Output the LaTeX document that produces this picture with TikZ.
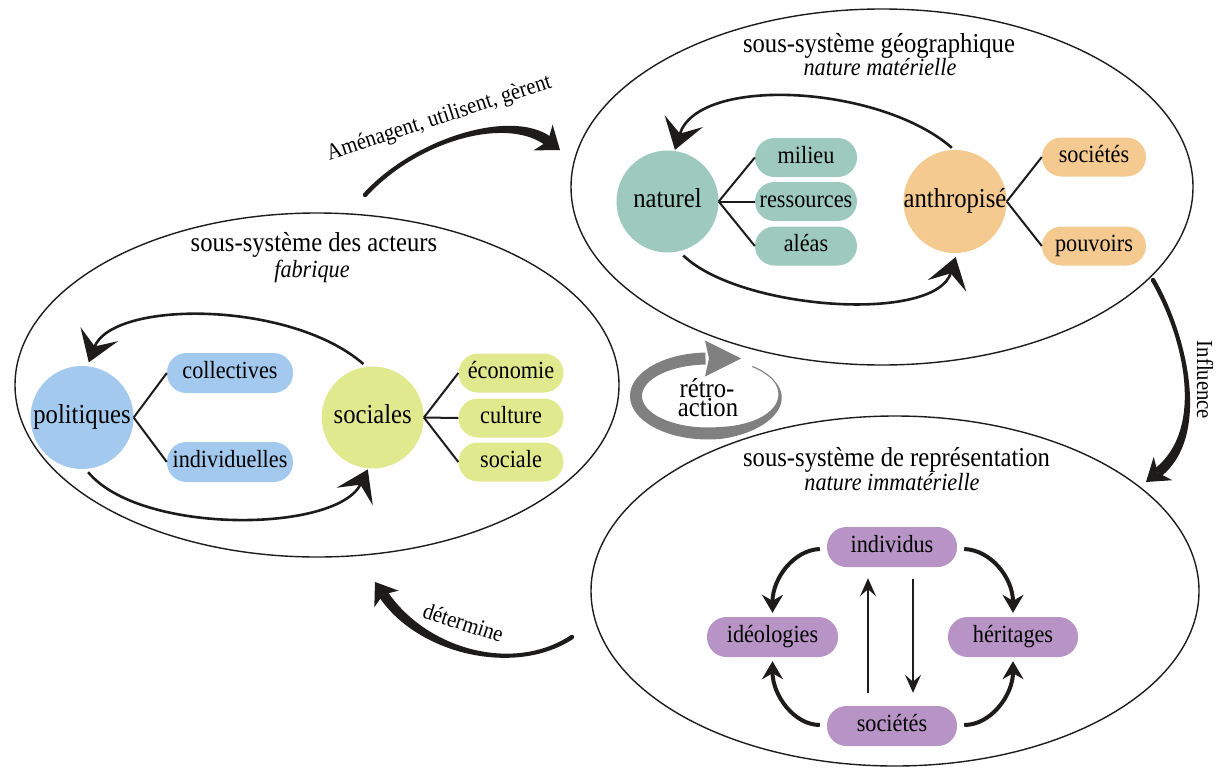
\documentclass[tikz,border=0pt]{standalone}
\usepackage{fontspec}
\setmainfont{Liberation Serif}[FakeStretch=0.9]
\usetikzlibrary{calc,arrows.meta,shapes.geometric}
\definecolor{cnat}{HTML}{9DCABC}
\definecolor{cant}{HTML}{F5CA90}
\definecolor{cpol}{HTML}{A3C9EE}
\definecolor{csoc}{HTML}{E1E98F}
\definecolor{crep}{HTML}{B793C6}
\definecolor{cgry}{HTML}{808080}
\definecolor{cink}{HTML}{1E1C1B}
\newcommand\fbig{\fontsize{27.4pt}{30pt}\selectfont}
\newcommand\fmid{\fontsize{24.7pt}{28pt}\selectfont}
\newcommand\fsml{\fontsize{23pt}{26pt}\selectfont}
\newcommand\taperarrow[6]{%
  \fill[cink] ($(#1)!#5!90:(#2)$) .. controls ($(#2)!#5!-90:(#1)$) and ($(#3)!#6!90:(#4)$) .. ($(#4)!#6!-90:(#3)$)
    -- ($(#4)!#6!90:(#3)$) .. controls ($(#3)!#6!-90:(#4)$) and ($(#2)!#5!90:(#1)$) .. ($(#1)!#5!-90:(#2)$) -- cycle;
  \fill[cink] (#1) circle[radius=#5];}
\begin{document}
\begin{tikzpicture}[x=1pt,y=-1pt,
  declare function={rw(\t)=1.2+10.8*min(1,max(0,(20-\t)/100));},
  subsys/.style={ellipse, draw=cink, line width=1.4pt, inner sep=0pt},
  hub/.style={circle, inner sep=0pt, minimum size=102pt, font=\fbig, text height=12.3pt, text depth=0pt},
  pill/.style={rectangle, rounded corners=19.5pt, minimum height=39pt, inner sep=0pt, font=\fmid, text height=11.1pt, text depth=0pt},
  title/.style={anchor=base, font=\fbig, inner sep=0pt},
  subtitle/.style={anchor=base, font=\fmid\itshape, inner sep=0pt},
  branch/.style={draw=cink, line width=2pt},
  loop/.style={draw=cink, line width=2.6pt, -{Stealth[length=30pt,width=40pt,inset=13pt]}},
  cyc/.style={draw=cink, line width=4pt, -{Stealth[length=18pt,width=21pt,inset=6pt]}},
  oneway/.style={draw=cink, line width=1.5pt, -{Stealth[length=18pt,width=16pt,inset=7pt]}},
  lbl/.style={font=\fsml, inner sep=0pt, anchor=base},
]
\useasboundingbox (0,0) rectangle (1223,771);
\clip (0,0) rectangle (1223,771);

% sub-system ellipses
\node[subsys, minimum width=622pt, minimum height=356pt] (geo) at (882,187) {};
\node[subsys, minimum width=604pt, minimum height=344pt] (act) at (317,385) {};
\node[subsys, minimum width=608pt, minimum height=350pt] (rep) at (895,591) {};

% titles
\node[title] (geot) at (879,52) {sous-système géographique};
\node[subtitle] (geos) at (880,75.7) {nature matérielle};
\node[title] (actt) at (314,251.7) {sous-système des acteurs};
\node[subtitle] (acts) at (312,277.7) {fabrique};
\node[title] (rept) at (896.5,466) {sous-système de représentation};
\node[subtitle] (reps) at (892,490.7) {nature immatérielle};

% geographic
\node[hub, fill=cnat] (naturel) at (667.5,201.5) {naturel};
\node[hub, fill=cant, minimum size=103pt] (anthropise) at (955,201.5) {anthropisé};
\node[pill, fill=cnat, minimum width=102pt] (milieu) at (806,157.5) {milieu};
\node[pill, fill=cnat, minimum width=102pt] (ressources) at (806,201.5) {ressources};
\node[pill, fill=cnat, minimum width=102pt] (aleas) at (806,246) {aléas};
\node[pill, fill=cant, minimum width=104pt] (societes1) at (1094,157) {sociétés};
\node[pill, fill=cant, minimum width=104pt] (pouvoirs) at (1094,246) {pouvoirs};
\draw[branch] (naturel.east) -- (milieu.west);
\draw[branch] (naturel.east) -- (ressources.west);
\draw[branch] (naturel.east) -- (aleas.west);
\draw[branch] (anthropise.east) -- (societes1.west);
\draw[branch] (anthropise.east) -- (pouvoirs.west);
\draw[loop, shorten <=3pt, shorten >=1pt] (anthropise.91) .. controls (880,85) and (698,75) .. (naturel.82);
\draw[loop, shorten <=6pt, shorten >=4pt] (naturel.-77) .. controls (740,310) and (935.6,323.7) .. (anthropise.-88);

% actors
\node[hub, fill=cpol, minimum size=103pt] (politiques) at (82,417.5) {politiques};
\node[hub, fill=csoc] (sociales) at (372.7,417.5) {sociales};
\node[pill, fill=cpol, minimum width=126pt, minimum height=40pt] (collectives) at (230,373) {collectives};
\node[pill, fill=cpol, minimum width=126pt, minimum height=40pt] (individuelles) at (230,462) {individuelles};
\node[pill, fill=csoc, minimum width=105pt] (economie) at (511,373) {économie};
\node[pill, fill=csoc, minimum width=105pt] (culture) at (511,418) {culture};
\node[pill, fill=csoc, minimum width=105pt] (sociale) at (511,462) {sociale};
\draw[branch] (politiques.east) -- (collectives.west);
\draw[branch] (politiques.east) -- (individuelles.west);
\draw[branch] (sociales.east) -- (economie.west);
\draw[branch] (sociales.east) -- (culture.west);
\draw[branch] (sociales.east) -- (sociale.west);
\draw[loop, shorten <=4pt, shorten >=4pt] (sociales.97) .. controls (290,300) and (112,300) .. (politiques.84);
\draw[loop, shorten <=4pt, shorten >=1pt] (politiques.-86) .. controls (140,535) and (337,533) .. (sociales.-95);

% representation
\node[pill, fill=crep, minimum width=130pt, minimum height=40pt] (individus) at (892,547) {individus};
\node[pill, fill=crep, minimum width=131pt, minimum height=40pt] (ideologies) at (772.5,637) {idéologies};
\node[pill, fill=crep, minimum width=130pt, minimum height=40pt] (heritages) at (1013,637) {héritages};
\node[pill, fill=crep, minimum width=130pt, minimum height=40pt] (societes2) at (892,726) {sociétés};
\draw[cyc] ($(individus.west)+(-7,2)$) .. controls (794,550) and (772.5,578) .. ($(ideologies.north)+(0,-4)$);
\draw[cyc] ($(individus.east)+(7,2)$) .. controls (991,550) and (1013,578) .. ($(heritages.north)+(0,-4)$);
\draw[cyc] ($(societes2.west)+(-7,-1)$) .. controls (794,725) and (772.5,695) .. ($(ideologies.south)+(0,4)$);
\draw[cyc] ($(societes2.east)+(7,-1)$) .. controls (991,725) and (1013,695) .. ($(heritages.south)+(0,4)$);
\draw[oneway] ($(societes2.north)+(-24,-13)$) -- ($(individus.south)+(-24,11)$);
\draw[oneway] ($(individus.south)+(21,12)$) -- ($(societes2.north)+(21,-13)$);

% big arrows between sub-systems
\coordinate (a0) at (365,195); \coordinate (a1) at (415,140);
\coordinate (a2) at (508,112); \coordinate (a3) at (548,141);
\taperarrow{a0}{a1}{a2}{a3}{2.2pt}{5pt}
\fill[cink] (560,150) -- (533.6,150.4) -- (a3) -- (552.6,124.6) -- cycle;
\node[lbl, rotate=18] (lab1) at (441,124) {Aménagent, utilisent, gèrent};

\coordinate (i0) at (1153,280); \coordinate (i1) at (1185,335);
\coordinate (i2) at (1208.9,432.3); \coordinate (i3) at (1157.7,472.7);
\taperarrow{i0}{i1}{i2}{i3}{2.2pt}{5pt}
\fill[cink] (1146,482) -- (1172.3,480.2) -- (i3) -- (1153.7,456.8) -- cycle;
\node[font=\fsml, inner sep=0pt, rotate=-90] (infl) at (1205,380) {Influence};

\coordinate (d0) at (572,637); \coordinate (d1) at (515,675);
\coordinate (d2) at (422.7,652.4); \coordinate (d3) at (383.4,594.4);
\taperarrow{d0}{d1}{d2}{d3}{2.2pt}{5pt}
\fill[cink] (375,582) -- (398.7,590.7) -- (d3) -- (374.3,607.3) -- cycle;
\node[lbl, rotate=-18] (lab4) at (461,630) {détermine};

% retro-action
\fill[cgry] plot[domain=52:-268, samples=90] ({708+(72+rw(\x)/2)*cos(\x)},{396-(37.5+rw(\x)/2)*sin(\x)})
  -- plot[domain=-268:52, samples=90] ({708+(72-rw(\x)/2)*cos(\x)},{396-(37.5-rw(\x)/2)*sin(\x)}) -- cycle;
\fill[cgry] (741,358.5) -- (705,340.5) -- (709,358.5) -- (705,376.5) -- cycle;
\node[font=\fbig, anchor=base, inner sep=0pt] (retro1) at (707,397) {rétro-};
\node[font=\fbig, anchor=base, inner sep=0pt] (retro2) at (708,416.7) {action};
\end{tikzpicture}
\end{document}
